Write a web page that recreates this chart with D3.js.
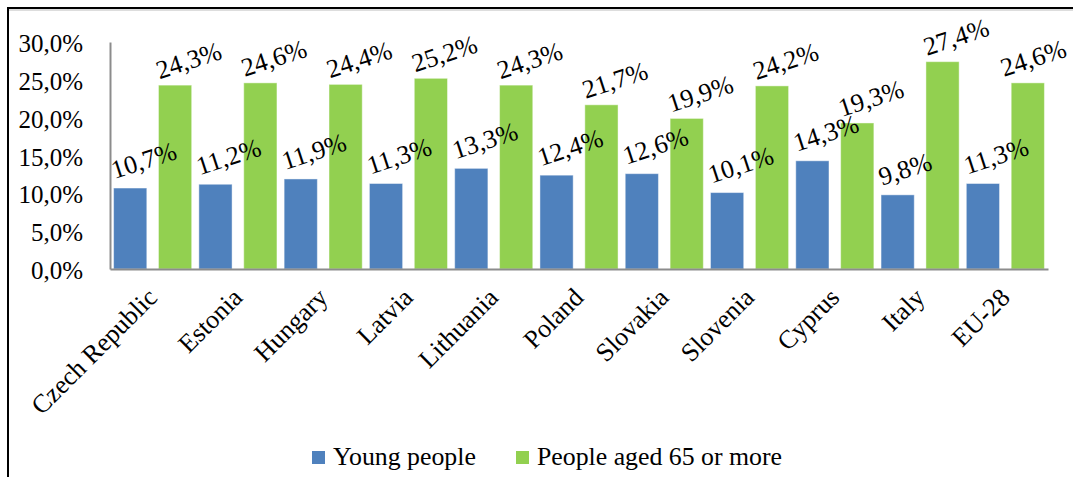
<!DOCTYPE html>
<html>
<head>
<meta charset="utf-8">
<script src="https://cdn.jsdelivr.net/npm/d3@7"></script>
<style>
  html, body { margin: 0; padding: 0; background: #fff; }
  svg text { font-family: "Liberation Serif", "Times New Roman", "DejaVu Serif", serif !important; }
</style>
</head>
<body>
<svg id="chart" width="1073" height="477"></svg>
<script>
// Share of young people and of people aged 65 or more, by country
const categories = ["Czech Republic", "Estonia", "Hungary", "Latvia", "Lithuania", "Poland",
                    "Slovakia", "Slovenia", "Cyprus", "Italy", "EU-28"];
const youngPeople = [10.7, 11.2, 11.9, 11.3, 13.3, 12.4, 12.6, 10.1, 14.3, 9.8, 11.3];
const aged65 = [24.3, 24.6, 24.4, 25.2, 24.3, 21.7, 19.9, 24.2, 19.3, 27.4, 24.6];
const seriesNames = ["Young people", "People aged 65 or more"];
const seriesColors = ["#4F81BD", "#92D050"];
const yTicks = [0, 5, 10, 15, 20, 25, 30];

const svg = d3.select("#chart");
const W = 1073, H = 477;
const plot = { left: 110, right: 1048, top: 42, bottom: 269 };
const angle = -18;

// outer frame (left and top edges visible)
svg.append("line").attr("x1", 8).attr("x2", W).attr("y1", 8).attr("y2", 8)
  .attr("stroke", "#000").attr("stroke-width", 2);
svg.append("line").attr("x1", 8).attr("x2", W).attr("y1", 10).attr("y2", 10)
  .attr("stroke", "#bbb").attr("stroke-width", 1);
svg.append("line").attr("x1", 8).attr("x2", 8).attr("y1", 7).attr("y2", H)
  .attr("stroke", "#000").attr("stroke-width", 2);

const x0 = d3.scaleBand().domain(categories).range([plot.left, plot.right]).padding(0);
const x1 = d3.scaleBand().domain(seriesNames).range([0, x0.bandwidth()])
  .paddingInner(0.26).paddingOuter(0.08);
const y = d3.scaleLinear().domain([0, 30]).range([plot.bottom, plot.top]);

const fmt = v => d3.format(".1f")(v).replace(".", ",") + "%";

// y axis labels
const yAxis = d3.axisLeft(y).tickValues(yTicks).tickSize(0).tickPadding(27)
  .tickFormat(d => fmt(d));
const gy = svg.append("g").attr("transform", `translate(${plot.left},0)`).call(yAxis);
gy.attr("font-family", null);
gy.select(".domain").attr("stroke", "#8c8c8c").attr("stroke-width", 2);
gy.selectAll("text").attr("font-size", 25).attr("fill", "#000").attr("dy", "0.38em");

// bars
const rows = categories.map((c, i) => ({ cat: c, vals: [youngPeople[i], aged65[i]] }));
const groups = svg.append("g").selectAll("g").data(rows).join("g")
  .attr("transform", d => `translate(${x0(d.cat)},0)`);

groups.selectAll("rect").data(d => d.vals.map((v, j) => ({ s: seriesNames[j], v, j })))
  .join("rect")
  .attr("x", d => x1(d.s))
  .attr("y", d => y(d.v))
  .attr("width", x1.bandwidth())
  .attr("height", d => y(0) - y(d.v))
  .attr("fill", d => seriesColors[d.j])
  .attr("stroke", "#ffffff").attr("stroke-opacity", 0.45).attr("stroke-width", 1);

// value labels, rotated; nudged left when they would run past the right edge
const cosA = Math.cos(angle * Math.PI / 180);
groups.each(function (row) {
  const gx0 = x0(row.cat);
  d3.select(this).selectAll("text.val")
    .data(row.vals.map((v, j) => ({ s: seriesNames[j], v, j })))
    .join("text").attr("class", "val")
    .attr("font-size", 26).attr("fill", "#000")
    .text(d => fmt(d.v))
    .attr("transform", function (d) {
      let lx = x1(d.s) + 1;
      const len = this.getComputedTextLength() * cosA;
      const overflow = gx0 + lx + len - (W - 5);
      if (overflow > 0) lx -= overflow;
      return `translate(${lx},${y(d.v) - (d.j === 0 ? 9 : 6)}) rotate(${angle})`;
    });
});

// x axis
const xAxis = d3.axisBottom(x0).tickSize(0).tickPadding(0);
const gx = svg.append("g").attr("transform", `translate(0,${plot.bottom})`).call(xAxis);
gx.attr("font-family", null);
gx.select(".domain").attr("stroke", "#8c8c8c").attr("stroke-width", 2);
gx.selectAll("text")
  .attr("font-size", 26).attr("fill", "#000")
  .attr("text-anchor", "end").attr("dy", null).attr("y", 0)
  .attr("transform", "translate(6,30) rotate(-45)");

// legend
const legend = svg.append("g");
const legendX = [312, 516];
seriesNames.forEach((name, j) => {
  legend.append("rect").attr("x", legendX[j]).attr("y", 451).attr("width", 13).attr("height", 13)
    .attr("fill", seriesColors[j]);
  legend.append("text").attr("x", legendX[j] + 21).attr("y", 465)
    .attr("font-size", 25.8).attr("fill", "#000").text(name);
});
</script>
</body>
</html>
